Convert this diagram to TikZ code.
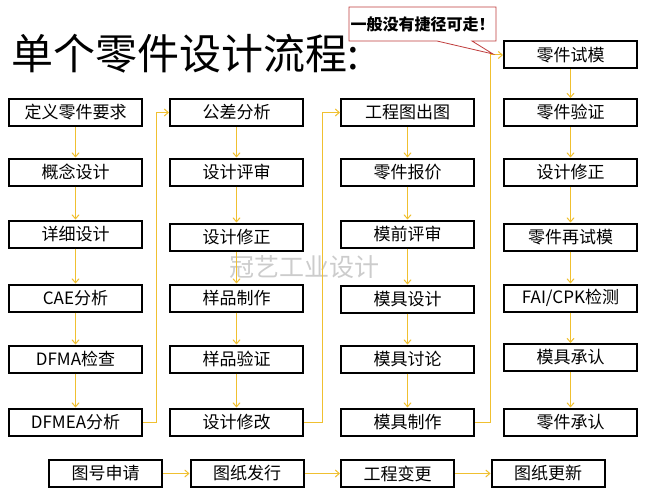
\documentclass[tikz,border=0pt]{standalone}
\usepackage{fontspec}
\setmainfont{Noto Sans CJK SC}
\usetikzlibrary{arrows.meta}
\definecolor{gold}{RGB}{240,192,48}
\definecolor{callred}{RGB}{192,60,60}
\begin{document}
\begin{tikzpicture}[x=1pt,y=-1pt,
  box/.style={draw=black, line width=2pt, fill=white, minimum width=133pt, minimum height=27pt, inner sep=0pt, font=\fontsize{17}{17}\selectfont},
  sbox/.style={box, minimum width=113pt},
  conn/.style={draw=gold, line width=1pt, -{Straight Barb[length=4pt,width=7pt]}}]
\useasboundingbox[fill=white] (0,0) rectangle (653,495);
% title
\node[anchor=west, inner sep=0pt, font=\fontsize{42}{42}\selectfont] (title) at (11,54) {单个零件设计流程:};
% watermark
\node[text=black!20, font=\fontsize{25}{25}\selectfont] (wm) at (304,267) {冠艺工业设计};
% column 1
\node[box] (a1) at (75.5,112.5) {定义零件要求};
\node[box] (a2) at (75.5,172) {概念设计};
\node[box] (a3) at (75.5,234) {详细设计};
\node[box] (a4) at (75.5,298) {CAE分析};
\node[box] (a5) at (75.5,359) {DFMA检查};
\node[box] (a6) at (75.5,422) {DFMEA分析};
% column 2
\node[box] (b1) at (236.5,112.5) {公差分析};
\node[box] (b2) at (236.5,172) {设计评审};
\node[box] (b3) at (236.5,237) {设计修正};
\node[box] (b4) at (236.5,298) {样品制作};
\node[box] (b5) at (236.5,359) {样品验证};
\node[box] (b6) at (236.5,422) {设计修改};
% column 3
\node[box] (c1) at (407.5,112.5) {工程图出图};
\node[box] (c2) at (407.5,172) {零件报价};
\node[box] (c3) at (407.5,234) {模前评审};
\node[box] (c4) at (407.5,299) {模具设计};
\node[box] (c5) at (407.5,359) {模具讨论};
\node[box] (c6) at (407.5,422) {模具制作};
% column 4
\node[box] (d1) at (570.5,55) {零件试模};
\node[box] (d2) at (570.5,112.5) {零件验证};
\node[box] (d3) at (570.5,172) {设计修正};
\node[box] (d4) at (570.5,237) {零件再试模};
\node[box] (d5) at (570.5,298) {FAI/CPK检测};
\node[box] (d6) at (570.5,357.5) {模具承认};
\node[box] (d7) at (570.5,422) {零件承认};
% bottom row
\node[sbox] (e1) at (105.5,473.5) {图号申请};
\node[sbox] (e2) at (247,473.5) {图纸发行};
\node[sbox] (e3) at (397.5,473.5) {工程变更};
\node[sbox] (e4) at (548,473.5) {图纸更新};
% vertical connectors
\foreach \p/\q in {a1/a2,a2/a3,a3/a4,a4/a5,a5/a6,b1/b2,b2/b3,b3/b4,b4/b5,b5/b6,c1/c2,c2/c3,c3/c4,c4/c5,c5/c6,d1/d2,d2/d3,d3/d4,d4/d5,d5/d6,d6/d7}
  \draw[conn] (\p.south) -- (\q.north);
% column links
\draw[conn] (a6.east) -- ++(13,0) |- (b1.west);
\draw[conn] (b6.east) -- ++(18,0) |- (c1.west);
\draw[conn] (c6.east) -- ++(15,0) |- (d1.west);
% bottom links
\draw[conn] (e1.east) -- (e2.west);
\draw[conn] (e2.east) -- (e3.west);
\draw[conn] (e3.east) -- (e4.west);
% callout
\draw[callred, fill=white, line width=0.8pt] (349,7) -- (496,7) -- (496,41) -- (472,41) -- (493,54) -- (437,41) -- (349,41) -- cycle;
\node[font=\bfseries\fontsize{16}{16}\selectfont, inner sep=0pt] (call) at (422.5,24) {一般没有捷径可走！};
\end{tikzpicture}
\end{document}
